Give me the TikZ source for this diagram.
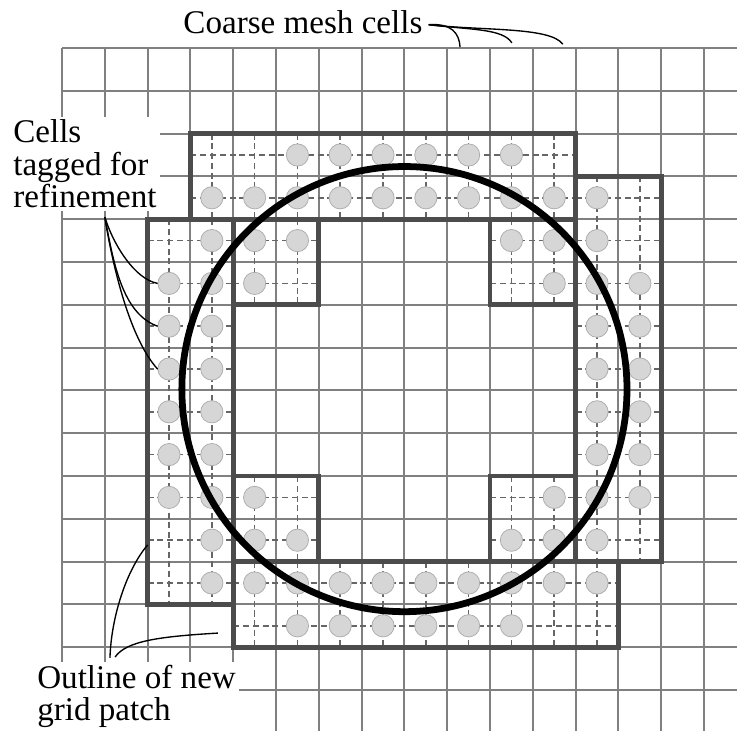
\documentclass[tikz,border=0pt]{standalone}
\usepackage{fontspec}
\setmainfont{Liberation Serif}
\usetikzlibrary{calc}

\definecolor{meshgray}{gray}{0.50}
\definecolor{finegray}{gray}{0.40}
\definecolor{patchgray}{gray}{0.30}
\definecolor{tagfill}{gray}{0.84}
\definecolor{tagedge}{gray}{0.68}

% refined patches as x0/y0/x1/y1 (coarse cells, rows counted downward)
\newcommand\patchlist{3/2/12/4, 12/3/14/12, 4/12/13/14, 2/4/4/13,
  4/4/6/6, 10/4/12/6, 4/10/6/12, 10/10/12/12}

\begin{document}
\begin{tikzpicture}[x=1cm,y=1cm,
   coarseline/.style={draw=meshgray,line width=1.3pt},
   fineline/.style={draw=finegray,line width=1pt,dash pattern=on 4pt off 2.5pt},
   patchline/.style={draw=patchgray,line width=3.2pt},
   tagcell/.style={circle,fill=tagfill,draw=tagedge,line width=0.5pt,minimum size=5.2mm,inner sep=0pt},
   note/.style={font=\fontsize{22}{21.6}\selectfont,align=left},
   leader/.style={line width=0.9pt}]
 \useasboundingbox (-1.449,1.121) rectangle (15.77,-15.96);
 % coarse mesh
 \foreach \i in {0,...,15} \draw[coarseline] (\i,0) -- (\i,-15.96);
 \foreach \j in {0,...,15} \draw[coarseline] (0,-\j) -- (15.77,-\j);
 % fine mesh lines through the cell centres of each patch
 \foreach \xa/\ya/\xb/\yb in \patchlist {
   \pgfmathtruncatemacro\nfx{\xb-\xa-1}
   \pgfmathtruncatemacro\nfy{\yb-\ya-1}
   \foreach \k in {0,...,\nfx} \draw[fineline] (\xa+\k+0.5,-\ya) -- (\xa+\k+0.5,-\yb);
   \foreach \k in {0,...,\nfy} \draw[fineline] (\xa,-\ya-\k-0.5) -- (\xb,-\ya-\k-0.5);
 }
 % tagged cells, row by row
 \foreach \r/\cs in {2/{5,...,10}, 3/{3,...,12}, 4/{3,4,5,10,11,12},
     5/{2,3,4,11,12,13}, 6/{2,3,12,13}, 7/{2,3,12,13}, 8/{2,3,12,13},
     9/{2,3,12,13}, 10/{2,3,4,11,12,13}, 11/{3,4,5,10,11,12},
     12/{3,...,12}, 13/{5,...,10}}
   \foreach \c in \cs \node[tagcell] (t-\c-\r) at (\c+0.5,-\r-0.5) {};
 % patch outlines
 \foreach \xa/\ya/\xb/\yb in \patchlist
   \draw[patchline] (\xa,-\ya) rectangle (\xb,-\yb);
 % embedded boundary
 \draw[line width=4.5pt] (8,-7.97) circle (5.2);
 % labels
 \node[note,anchor=base west,inner sep=0pt] (coarse) at (2.83,0.35) {Coarse mesh cells};
 \node[note,anchor=north west,fill=white,inner sep=2pt] (tagged) at (-1.215,-1.60)
   {Cells\\tagged for\\refinement};
 \node[note,anchor=north west,fill=white,inner sep=2pt] (outline) at (-0.654,-14.34)
   {Outline of new\\grid patch};
 \coordinate (tagroot) at (1,-3.95);
 \coordinate (out1) at (1.12,-14.25);
 \coordinate (out2) at (1.24,-14.23);
 \coordinate (c1) at (9.30,0.02);
 \coordinate (c2) at (10.51,0.12);
 \coordinate (c3) at (11.70,0.09);
 \coordinate (p1) at (2.0,-11.61);
 \coordinate (p2) at (3.64,-13.67);
 % leaders
 \draw[leader] ([xshift=4pt,yshift=-2pt]coarse.east) .. controls (9.1,0.58) and (9.28,0.35) .. (c1);
 \draw[leader] ([xshift=4pt,yshift=-2pt]coarse.east) .. controls (9.6,0.42) and (10.3,0.45) .. (c2);
 \draw[leader] ([xshift=4pt,yshift=-2pt]coarse.east) .. controls (9.8,0.40) and (11.4,0.50) .. (c3);
 \draw[leader] (tagroot) .. controls (1.2,-4.6) and (1.7,-5.4) .. (t-2-5.west);
 \draw[leader] (tagroot) .. controls (1.2,-5.0) and (1.4,-6.2) .. (t-2-6.west);
 \draw[leader] (tagroot) .. controls (1.2,-5.2) and (1.6,-6.8) .. (t-2-7.west);
 \draw[leader] (out1) .. controls (1.15,-13.3) and (1.5,-12.2) .. (p1);
 \draw[leader] (out2) .. controls (1.5,-13.85) and (2.3,-13.75) .. (p2);
\end{tikzpicture}
\end{document}
